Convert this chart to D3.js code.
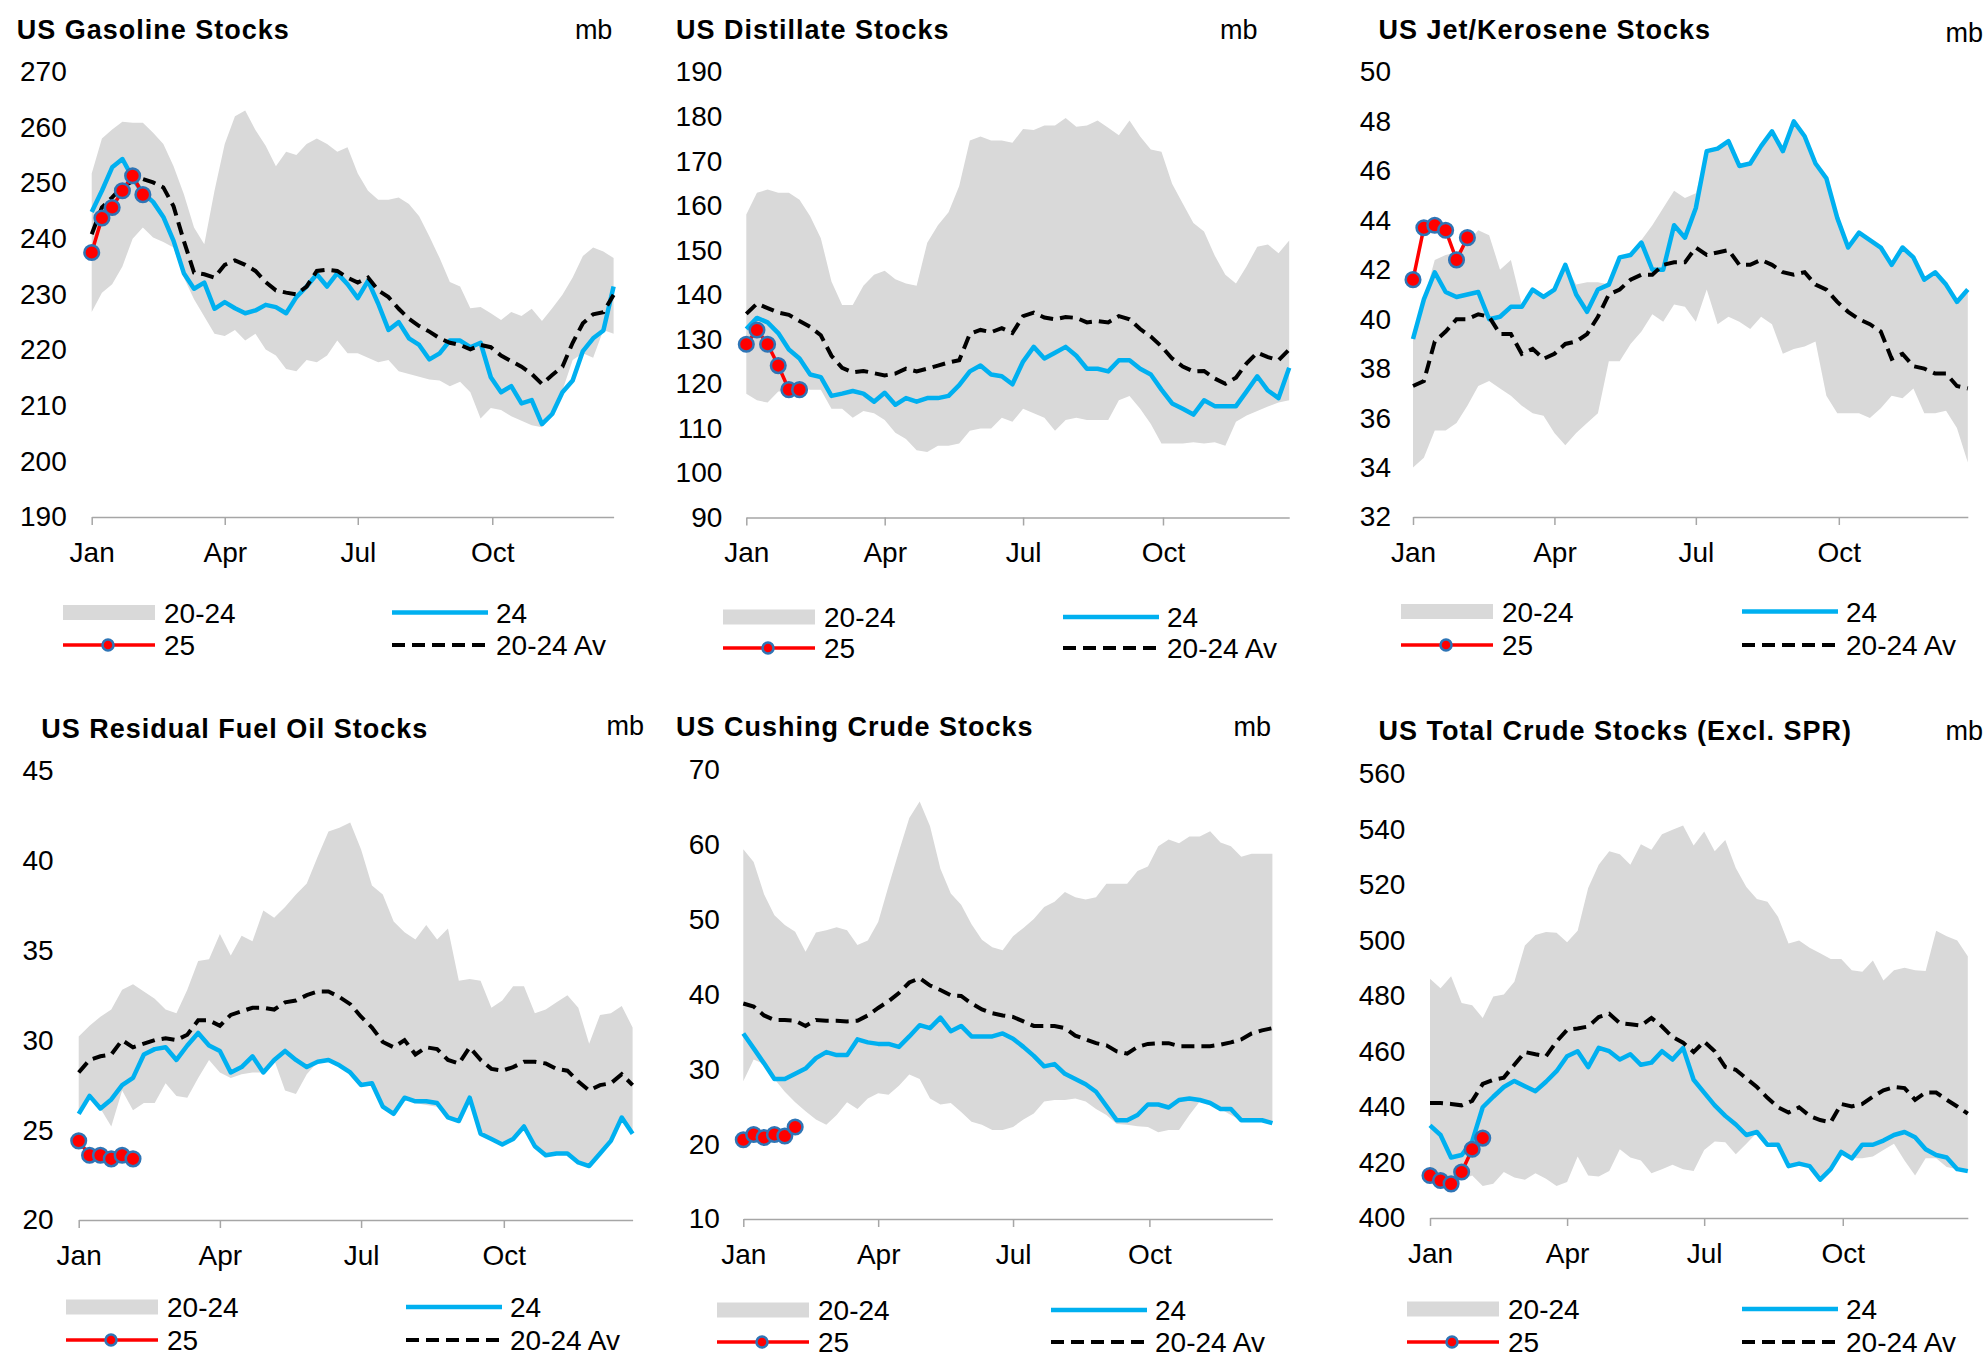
<!DOCTYPE html>
<html>
<head>
<meta charset="utf-8">
<script src="https://cdn.jsdelivr.net/npm/d3@7"></script>
<style>
  body { margin: 0; background: #fff; }
  svg { display: block; }
</style>
</head>
<body>
<svg id="chart" width="1983" height="1358"></svg>
<script>
// weekly stocks, mb. lo/hi = 2020-24 range, avg = 2020-24 average, 24 = 2024, 25 = 2025 so far

const gasLo = [226.8, 230.3, 231.8, 235, 240, 242, 240.2, 239.4, 238.4, 233, 229.1, 226, 222.9, 222.5, 223.6, 221.7, 222.9, 220.1, 219, 216.6, 216.2, 218.2, 217.8, 219, 221.7, 219.4, 219.4, 218.6, 217.8, 218.2, 216.2, 215.7, 215.2, 214.7, 214.5, 213.5, 214.3, 212.4, 207.7, 209.6, 209.2, 208.1, 207.3, 206.5, 206.1, 208.5, 212.7, 218.2, 219.4, 218.6, 223.6, 222.9];
const gasHi = [251.7, 258, 259.6, 261, 260.8, 260.8, 259, 257, 253, 248, 242, 239, 248.6, 257, 262, 263, 259.5, 256.7, 253, 255.6, 255, 257, 258, 257, 255.6, 256.4, 251.7, 248.6, 247, 247, 247.4, 246.2, 244, 240.4, 236.5, 232.2, 231.4, 227.5, 227.7, 226.6, 225.4, 226.8, 226.1, 227.4, 225.2, 227.5, 229.9, 233, 236.9, 238.4, 237.7, 236.5];
const gas24 = [244.8, 248.6, 252.8, 254.3, 250.9, 248.2, 246.6, 243.9, 239.6, 233.8, 231, 232.1, 227.4, 228.6, 227.5, 226.6, 227.1, 228.1, 227.7, 226.6, 229.5, 231.4, 233.6, 231.4, 233.8, 231.8, 229.3, 232.4, 228.3, 223.6, 225, 222.1, 220.9, 218.3, 219.4, 221.7, 221.7, 220.5, 221.3, 215.1, 212.4, 213.5, 210.4, 211, 206.7, 208.5, 212.4, 214.5, 219.8, 222.1, 223.5, 231.4];
const gasAvg = [240.8, 245.6, 247.4, 249.3, 250.3, 250.7, 250.1, 249.2, 245.8, 239.6, 233.9, 233.6, 233, 235.3, 236.1, 235.3, 234.2, 232.2, 230.7, 230.3, 230, 231.4, 234.2, 234.4, 234.2, 233, 232.1, 233, 230.7, 229.5, 227.4, 225.6, 224.3, 223.3, 222.1, 221.3, 220.9, 220.1, 220.9, 220.5, 219, 218, 217, 215.7, 213.9, 215.5, 217, 221.3, 224.8, 226.4, 226.8, 229.9];
const gas25 = [237.5, 243.7, 245.6, 248.6, 251.3, 247.9];
const gasTicks = [190, 200, 210, 220, 230, 240, 250, 260, 270];

const distLo = [117.8, 116.3, 115.8, 118.3, 118.3, 119.2, 118.7, 118.7, 114.4, 114.4, 112.4, 113.9, 113.4, 111.9, 109, 107.6, 105.1, 104.7, 106.1, 106.1, 106.6, 109.5, 110, 110, 112.4, 111.5, 114.4, 113.4, 112.4, 109.5, 111.9, 112.4, 111.9, 111.9, 111.9, 116.3, 117.3, 114.4, 111, 106.6, 106.6, 106.6, 106.9, 106.6, 106.9, 106.1, 111.5, 112.9, 113.9, 114.9, 115.8, 116.3];
const distHi = [158, 162.9, 163.6, 162.9, 162.9, 161.3, 157.6, 152.7, 143, 137.7, 137.7, 142, 144.5, 145.4, 143.5, 142.5, 142, 151.7, 155.6, 158.5, 164.4, 174.6, 175.5, 174.6, 174.6, 174.1, 177.2, 177, 178, 178, 179.7, 177.7, 178, 179.1, 177.5, 175.8, 179.1, 175.5, 172.6, 172.1, 164.9, 160.5, 156.1, 154.2, 148.8, 144.5, 142.5, 146.4, 150.8, 151.3, 149.3, 152.2];
const dist24 = [132.3, 134.8, 133.8, 131.4, 127.7, 125.7, 122.1, 121.5, 117.3, 117.8, 118.4, 117.8, 116, 118, 115.3, 116.8, 116, 116.8, 116.8, 117.3, 119.7, 122.8, 124.1, 122.1, 121.7, 119.9, 125, 128.3, 125.7, 127, 128.3, 126.3, 123.4, 123.4, 122.8, 125.3, 125.3, 123.4, 122.1, 118.7, 115.6, 114.4, 113.1, 116.3, 115, 115, 115, 118.3, 121.7, 118.5, 116.8, 123.6];
const distAvg = [135.7, 138, 137, 136, 135.5, 134.1, 132.8, 130.9, 126.3, 123.6, 122.6, 122.9, 122.4, 121.9, 122.3, 123.4, 122.8, 123.4, 124.1, 124.8, 125.3, 131.2, 132.1, 131.6, 132.5, 131.4, 135.2, 136, 134.9, 134.5, 135, 134.8, 133.8, 134.1, 133.8, 135.2, 134.5, 132.3, 130.6, 128.4, 125.7, 123.9, 122.8, 122.9, 121.2, 120, 121.4, 124.6, 127, 126, 125.3, 127.7];
const dist25 = [128.9, 132.1, 128.9, 124.1, 118.7, 118.7];
const distTicks = [90, 100, 110, 120, 130, 140, 150, 160, 170, 180, 190];

const jetLo = [34, 34.4, 35.5, 35.5, 35.8, 36.5, 37.3, 37.5, 37.2, 36.9, 36.5, 36.2, 36.1, 35.4, 34.9, 35.4, 35.8, 36.2, 38.3, 38.3, 39, 39.5, 40.2, 39.9, 40.6, 40.5, 39.9, 41.2, 39.8, 40.1, 39.9, 39.6, 40.1, 39.8, 38.6, 38.8, 38.9, 39.1, 36.9, 36.2, 36.2, 36.2, 36, 36.4, 36.9, 36.8, 37.2, 36.2, 36.2, 36.3, 35.6, 34.2];
const jetHi = [39.5, 40.8, 42.4, 42.6, 42.7, 43.1, 43.6, 43.4, 42, 42.4, 40.6, 41.2, 40.9, 41.2, 42.2, 41.4, 41.5, 41.5, 41.4, 42.5, 42.6, 43.2, 43.8, 44.5, 45.2, 44.9, 45.1, 46.8, 46.9, 47.2, 46.2, 46.3, 47, 47.6, 46.8, 48, 47.4, 46.3, 45.7, 44.1, 42.9, 43.5, 43.2, 42.9, 42.2, 42.9, 42.5, 41.6, 41.9, 41.4, 40.7, 41.2];
const jet24 = [39.2, 40.8, 41.9, 41.1, 40.9, 41, 41.1, 40, 40.1, 40.5, 40.5, 41.2, 40.9, 41.2, 42.2, 41, 40.3, 41.2, 41.4, 42.5, 42.6, 43.1, 42, 42, 43.8, 43.3, 44.5, 46.8, 46.9, 47.2, 46.2, 46.3, 47, 47.6, 46.8, 48, 47.4, 46.3, 45.7, 44.1, 42.9, 43.5, 43.2, 42.9, 42.2, 42.9, 42.5, 41.6, 41.9, 41.4, 40.7, 41.2];
const jetAvg = [37.3, 37.5, 39.1, 39.5, 40, 40, 40.2, 40.1, 39.4, 39.4, 38.6, 38.8, 38.4, 38.6, 39, 39.1, 39.4, 40.1, 41, 41.2, 41.6, 41.8, 41.8, 42.2, 42.3, 42.3, 42.9, 42.6, 42.7, 42.8, 42.2, 42.2, 42.4, 42.2, 41.9, 41.8, 41.9, 41.4, 41.2, 40.7, 40.3, 40, 39.8, 39.5, 38.4, 38.6, 38.1, 38, 37.8, 37.8, 37.3, 37.2];
const jet25 = [41.6, 43.7, 43.8, 43.6, 42.4, 43.3];
const jetTicks = [32, 34, 36, 38, 40, 42, 44, 46, 48, 50];

const resLo = [25.9, 26.9, 26.2, 25.2, 27.2, 26.1, 26.5, 26.5, 27.6, 26.9, 26.8, 27.9, 28.9, 28.2, 27.9, 28.1, 28.2, 28.2, 28.9, 27.2, 27, 28.1, 28.8, 28.9, 28.6, 28.2, 27.5, 27.6, 26.3, 25.9, 26.8, 26.5, 26.4, 26.3, 25.7, 25.5, 26.8, 24.8, 24.4, 24.2, 24.5, 25.2, 24.1, 23.6, 23.7, 23.7, 23.2, 23, 23.7, 24.4, 25.7, 24.8];
const resHi = [30.2, 30.8, 31.3, 31.7, 32.8, 33.1, 32.7, 32.3, 31.7, 31.5, 32.8, 34.4, 34.5, 35.9, 34.7, 35.8, 35.5, 37.2, 36.8, 37.4, 38.1, 38.7, 40.2, 41.6, 41.8, 42.1, 40.6, 38.6, 38.1, 36.6, 36, 35.6, 36.4, 35.6, 36.2, 33.3, 33.4, 33.3, 31.8, 32.2, 33, 33, 31.5, 31.7, 32.1, 32.5, 31.8, 29.8, 31.4, 31.5, 31.9, 30.7];
const res24 = [25.9, 26.9, 26.2, 26.7, 27.5, 27.9, 29.2, 29.5, 29.6, 28.9, 29.7, 30.4, 29.7, 29.4, 28.2, 28.5, 29.1, 28.2, 28.9, 29.4, 28.9, 28.5, 28.8, 28.9, 28.6, 28.2, 27.5, 27.6, 26.3, 25.9, 26.8, 26.6, 26.6, 26.5, 25.7, 25.5, 26.8, 24.8, 24.5, 24.2, 24.5, 25.2, 24.1, 23.6, 23.7, 23.7, 23.2, 23, 23.7, 24.4, 25.7, 24.8];
const resAvg = [28.2, 28.9, 29.1, 29.2, 30, 29.6, 29.8, 30, 30.1, 30, 30.3, 31.1, 31.1, 30.8, 31.4, 31.6, 31.8, 31.8, 31.7, 32.1, 32.2, 32.5, 32.7, 32.7, 32.4, 32, 31.3, 30.7, 29.9, 29.6, 30, 29.2, 29.6, 29.5, 28.9, 28.7, 29.6, 28.9, 28.4, 28.3, 28.5, 28.8, 28.8, 28.7, 28.4, 28.3, 27.7, 27.2, 27.5, 27.6, 28.1, 27.5];
const res25 = [24.4, 23.6, 23.6, 23.4, 23.6, 23.4];
const resTicks = [20, 25, 30, 35, 40, 45];

const cushLo = [28.4, 31.3, 30.7, 28.7, 27, 25.6, 24.4, 23.3, 22.6, 23.9, 25.6, 24.7, 26.1, 26.8, 26.6, 27.8, 29.3, 28.7, 26.1, 25.3, 25.5, 24.3, 23, 22.6, 21.9, 21.9, 22.3, 23.3, 24.1, 25.7, 25.9, 25.9, 26.1, 25.7, 24.7, 23.9, 22.7, 22.6, 22.4, 22.3, 21.6, 21.9, 21.9, 23.9, 25.7, 25.5, 24.7, 23.9, 23.2, 23.2, 23, 22.8];
const cushHi = [59.4, 57.7, 53.4, 50.6, 49.3, 48.4, 45.7, 48.3, 48.6, 49, 48.6, 46.6, 47.2, 49.7, 54.5, 59.1, 63.6, 65.8, 62.5, 56.8, 53.5, 52, 49.4, 47.3, 46.3, 45.9, 47.8, 48.9, 50.1, 51.7, 52.4, 53.7, 53, 52.7, 53, 54.8, 54.8, 54.8, 56.5, 57.1, 59.8, 60.7, 60.2, 61.1, 61.1, 61.8, 60.3, 59.8, 58.4, 58.8, 58.8, 58.8];
const cush24 = [34.8, 32.8, 30.8, 28.7, 28.7, 29.4, 30.1, 31.5, 32.3, 31.9, 31.9, 34, 33.6, 33.4, 33.4, 33, 34.4, 35.9, 35.5, 36.9, 35.1, 35.8, 34.4, 34.4, 34.4, 34.8, 34.1, 33, 31.8, 30.4, 30.7, 29.4, 28.7, 28, 27, 25.1, 23.2, 23.2, 23.9, 25.3, 25.3, 24.9, 25.9, 26.1, 25.9, 25.5, 24.7, 24.7, 23.2, 23.2, 23.2, 22.8];
const cushAvg = [38.8, 38.4, 37.2, 36.6, 36.6, 36.5, 35.8, 36.6, 36.5, 36.5, 36.4, 36.5, 37.2, 38.2, 39.1, 40.2, 41.6, 42.2, 41.2, 40.6, 39.9, 39.8, 38.8, 38, 37.5, 37.2, 37, 36.4, 35.8, 35.8, 35.8, 35.5, 34.5, 34, 33.5, 33.2, 32.4, 32.1, 33, 33.4, 33.5, 33.5, 33.1, 33.1, 33.1, 33.1, 33.3, 33.6, 34, 34.8, 35.2, 35.5];
const cush25 = [20.6, 21.3, 20.9, 21.3, 21.1, 22.3];
const cushTicks = [10, 20, 30, 40, 50, 60, 70];

const crudeLo = [416.1, 413.8, 412.3, 413.8, 415.3, 411.5, 412.3, 416.6, 414.6, 413.8, 416.1, 414.1, 411.5, 413, 422.2, 415.3, 415, 416.9, 424.8, 421.8, 420.7, 416.1, 417.6, 419.2, 417.6, 416.9, 424.5, 427.6, 427.3, 423, 426.8, 430.7, 427.9, 425.3, 418.7, 419.6, 418.7, 413.8, 417.6, 423, 421.5, 421.5, 422.2, 424.5, 426.8, 420.7, 415.3, 421.5, 421.5, 418.4, 417.6, 416.9];
const crudeHi = [486.2, 482.8, 487.1, 477.5, 476.7, 472.1, 479.8, 480.5, 485.1, 498.2, 502, 503.1, 502.8, 499.4, 503.5, 518.9, 527.3, 532.2, 531.1, 527.3, 534.7, 532.7, 538.3, 539.9, 541.4, 534.2, 539.3, 532.2, 536.2, 526.1, 519.3, 515, 514, 508.6, 498.9, 500, 497.4, 495.4, 493.3, 493.3, 489.3, 488.7, 492.8, 485.6, 489.3, 490.2, 489.3, 489, 503.5, 501.5, 500, 494.3];
const crude24 = [433.4, 429.9, 421.8, 422.7, 427.6, 439.9, 443.7, 447.2, 449.4, 447.5, 445.7, 449.1, 452.9, 458.3, 460.1, 454.4, 461.3, 460.1, 457.1, 459, 455.2, 456, 460.1, 457.1, 461.3, 449.8, 445.2, 440.6, 436.8, 433.7, 429.9, 431, 426.4, 426.4, 418.7, 419.6, 418.7, 413.8, 417.6, 423.8, 421.5, 426.4, 426.4, 427.9, 429.9, 431, 429.1, 424.8, 422.7, 421.8, 417.6, 416.9];
const crudeAvg = [441.4, 441.4, 441.1, 440.6, 442.2, 448.3, 449.8, 450.6, 455.2, 459.8, 459, 458.3, 463.6, 467.8, 468.3, 469, 472.4, 473.6, 470.2, 469.8, 469.3, 472.1, 469, 465.2, 463.2, 459.8, 463.6, 460.1, 454.4, 453.4, 450.3, 447.2, 443.3, 439.9, 438, 439.9, 436.8, 435.3, 434.5, 441.1, 440.2, 441.1, 443.7, 446, 447.2, 446.8, 442.6, 445.2, 445.2, 442.6, 440.2, 437.6];
const crude25 = [415.3, 413.5, 412.3, 416.6, 424.8, 428.8];
const crudeTicks = [400, 420, 440, 460, 480, 500, 520, 540, 560];

// 52 weekly points and the quarter ticks on the x axis
const weeks = d3.timeDay.range(new Date(2024, 0, 1), new Date(2024, 11, 24), 7);
const monthTicks = [new Date(2024, 0, 1), new Date(2024, 3, 1), new Date(2024, 6, 1), new Date(2024, 9, 1)];
const legendNames = ["20-24", "25", "24", "20-24 Av"];

const FONT = "'Liberation Sans', Arial, Helvetica, sans-serif";
const BAND = "#d9d9d9", BLUE = "#00b0f0", RED = "#ff0000", MARK = "#2e75b6", AXIS = "#a6a6a6";

// layout of the 6 panels (pixel positions only)
const panels = [
  { title: "US Gasoline Stocks", lo: gasLo, hi: gasHi, s24: gas24, avg: gasAvg, s25: gas25, ticks: gasTicks,
    x0: 91.7, x1: 613.6, yB: 517, yT: 71.6, pad: 25, tx: 16.8, ty: 39, mbX: 612.4, mbY: 39,
    lg: { x1: 63, x2: 392, y1: 612.5, y2: 645 } },
  { title: "US Distillate Stocks", lo: distLo, hi: distHi, s24: dist24, avg: distAvg, s25: dist25, ticks: distTicks,
    x0: 746.3, x1: 1289.2, yB: 517.5, yT: 72, pad: 24, tx: 676, ty: 39, mbX: 1257.6, mbY: 39,
    lg: { x1: 723, x2: 1063, y1: 617, y2: 648 } },
  { title: "US Jet/Kerosene Stocks", lo: jetLo, hi: jetHi, s24: jet24, avg: jetAvg, s25: jet25, ticks: jetTicks,
    x0: 1413, x1: 1967.8, yB: 517, yT: 72, pad: 22, tx: 1378.4, ty: 39, mbX: 1983, mbY: 42,
    lg: { x1: 1401, x2: 1742, y1: 611.5, y2: 645 } },
  { title: "US Residual Fuel Oil Stocks", lo: resLo, hi: resHi, s24: res24, avg: resAvg, s25: res25, ticks: resTicks,
    x0: 78.7, x1: 632.6, yB: 1220, yT: 770.3, pad: 25, tx: 41.2, ty: 737.7, mbX: 644, mbY: 735,
    lg: { x1: 66, x2: 406, y1: 1307, y2: 1340 } },
  { title: "US Cushing Crude Stocks", lo: cushLo, hi: cushHi, s24: cush24, avg: cushAvg, s25: cush25, ticks: cushTicks,
    x0: 743.3, x1: 1272.4, yB: 1219, yT: 770, pad: 23.5, tx: 676, ty: 736, mbX: 1271, mbY: 736,
    lg: { x1: 717, x2: 1051, y1: 1310, y2: 1342 } },
  { title: "US Total Crude Stocks (Excl. SPR)", lo: crudeLo, hi: crudeHi, s24: crude24, avg: crudeAvg, s25: crude25, ticks: crudeTicks,
    x0: 1430, x1: 1967.8, yB: 1218, yT: 774, pad: 24.6, tx: 1378.4, ty: 740, mbX: 1983, mbY: 740,
    lg: { x1: 1407, x2: 1742, y1: 1309, y2: 1342 } }
];

const svg = d3.select("#chart").attr("font-family", FONT);

panels.forEach((p) => {
  const g = svg.append("g");

  const x = d3.scaleTime().domain([weeks[0], weeks[weeks.length - 1]]).range([p.x0, p.x1]);
  const y = d3.scaleLinear().domain([p.ticks[0], p.ticks[p.ticks.length - 1]]).range([p.yB, p.yT]);

  // 20-24 range band
  const band = d3.area()
    .x((d, i) => x(weeks[i]))
    .y0((d, i) => y(p.lo[i]))
    .y1((d, i) => y(p.hi[i]));
  g.append("path").datum(p.lo).attr("fill", BAND).attr("d", band);

  // x axis
  const xa = g.append("g")
    .attr("transform", "translate(0," + p.yB + ")")
    .call(d3.axisBottom(x).tickValues(monthTicks).tickFormat(d3.timeFormat("%b"))
      .tickSize(8).tickSizeOuter(0).tickPadding(17));
  xa.attr("font-family", FONT).attr("font-size", 28);
  xa.select(".domain").attr("stroke", AXIS).attr("stroke-width", 1.5);
  xa.selectAll(".tick line").attr("stroke", AXIS).attr("stroke-width", 1.5);
  xa.selectAll(".tick text").attr("fill", "#000");

  // y axis (labels only)
  const ya = g.append("g")
    .attr("transform", "translate(" + p.x0 + ",0)")
    .call(d3.axisLeft(y).tickValues(p.ticks).tickSize(0).tickPadding(p.pad));
  ya.attr("font-family", FONT).attr("font-size", 28);
  ya.select(".domain").remove();
  ya.selectAll(".tick text").attr("fill", "#000");

  const line = d3.line().x((d, i) => x(weeks[i])).y((d) => y(d));

  // 2024
  g.append("path").datum(p.s24)
    .attr("fill", "none").attr("stroke", BLUE).attr("stroke-width", 4.5)
    .attr("stroke-linejoin", "round").attr("d", line);

  // 20-24 average
  g.append("path").datum(p.avg)
    .attr("fill", "none").attr("stroke", "#000").attr("stroke-width", 4)
    .attr("stroke-dasharray", "13,7").attr("d", line);

  // 2025
  g.append("path").datum(p.s25)
    .attr("fill", "none").attr("stroke", RED).attr("stroke-width", 3.5).attr("d", line);
  g.selectAll("circle.m25").data(p.s25).join("circle")
    .attr("class", "m25")
    .attr("cx", (d, i) => x(weeks[i]))
    .attr("cy", (d) => y(d))
    .attr("r", 7.3)
    .attr("fill", RED).attr("stroke", MARK).attr("stroke-width", 2.5);

  // title and unit
  g.append("text").attr("x", p.tx).attr("y", p.ty)
    .attr("font-size", 27).attr("font-weight", "bold").attr("letter-spacing", 1)
    .text(p.title);
  g.append("text").attr("x", p.mbX).attr("y", p.mbY)
    .attr("font-size", 27).attr("text-anchor", "end").text("mb");

  // legend
  const lg = p.lg;
  const lgText = (tx, ty, s) =>
    g.append("text").attr("x", tx).attr("y", ty).attr("font-size", 28).text(s);

  g.append("rect").attr("x", lg.x1).attr("y", lg.y1 - 7.5)
    .attr("width", 92).attr("height", 15).attr("fill", BAND);
  lgText(lg.x1 + 101, lg.y1 + 10, legendNames[0]);

  g.append("line").attr("x1", lg.x1).attr("x2", lg.x1 + 92)
    .attr("y1", lg.y2).attr("y2", lg.y2).attr("stroke", RED).attr("stroke-width", 3.5);
  g.append("circle").attr("cx", lg.x1 + 45).attr("cy", lg.y2).attr("r", 5.5)
    .attr("fill", RED).attr("stroke", MARK).attr("stroke-width", 2.5);
  lgText(lg.x1 + 101, lg.y2 + 10, legendNames[1]);

  g.append("line").attr("x1", lg.x2).attr("x2", lg.x2 + 96)
    .attr("y1", lg.y1).attr("y2", lg.y1).attr("stroke", BLUE).attr("stroke-width", 4.5);
  lgText(lg.x2 + 104, lg.y1 + 10, legendNames[2]);

  g.append("line").attr("x1", lg.x2).attr("x2", lg.x2 + 96)
    .attr("y1", lg.y2).attr("y2", lg.y2).attr("stroke", "#000").attr("stroke-width", 4)
    .attr("stroke-dasharray", "13,7");
  lgText(lg.x2 + 104, lg.y2 + 10, legendNames[3]);
});
</script>
</body>
</html>
